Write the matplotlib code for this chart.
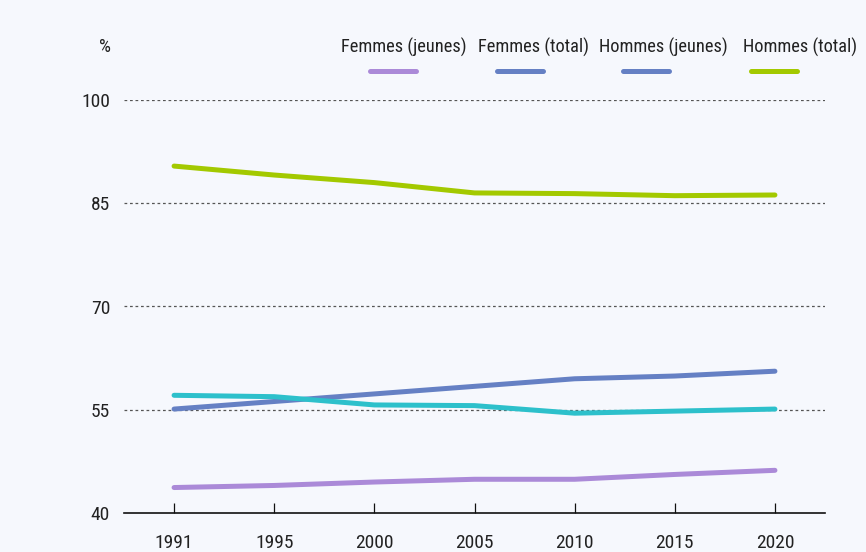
import matplotlib
matplotlib.use("Agg")
import matplotlib.pyplot as plt
from matplotlib.lines import Line2D
from matplotlib import font_manager

names = {f.name for f in font_manager.fontManager.ttflist}
fam = [f for f in ["Roboto Condensed", "Liberation Sans Narrow", "Roboto", "DejaVu Sans"] if f in names]
plt.rcParams['font.family'] = fam

years = ["1991", "1995", "2000", "2005", "2010", "2015", "2020"]
femmes_jeunes = [43.7, 44.0, 44.5, 44.9, 44.9, 45.6, 46.2]
femmes_total = [55.1, 56.2, 57.3, 58.4, 59.5, 59.9, 60.6]
hommes_jeunes = [57.1, 56.9, 55.7, 55.6, 54.5, 54.8, 55.1]
hommes_total = [90.4, 89.1, 88.0, 86.5, 86.4, 86.1, 86.2]
y_ticks = [40, 55, 70, 85, 100]
legend_labels = ["Femmes (jeunes)", "Femmes (total)", "Hommes (jeunes)", "Hommes (total)"]

bg = "#f6f8fd"
c_purple = "#ab8ad8"
c_blue = "#6580c4"
c_cyan = "#2dc0cb"
c_green = "#a3c900"

fig = plt.figure(figsize=(8.66, 5.52), dpi=100, facecolor=bg)
ax = fig.add_axes([124/866, 1-513/552, (825-124)/866, (513-100)/552], facecolor=bg)

x = list(range(len(years)))
lw = 3.6
for vals, col in [(femmes_jeunes, c_purple), (femmes_total, c_blue),
                  (hommes_jeunes, c_cyan), (hommes_total, c_green)]:
    ax.plot(x, vals, color=col, lw=lw, solid_capstyle='round', solid_joinstyle='round', zorder=3)

ax.set_xlim(-0.5, len(years) - 0.5)
ax.set_ylim(40, 100)
ax.set_xticks(x)
ax.set_xticklabels(years)
ax.set_yticks(y_ticks)
ax.set_yticklabels([str(v) for v in y_ticks])
for v in y_ticks[1:]:
    ax.axhline(v, color="#555555", lw=0.9, ls=(0, (2.2, 2.2)), zorder=1)

for s in ["left", "right", "top"]:
    ax.spines[s].set_visible(False)
ax.spines["bottom"].set_color("#111111")
ax.spines["bottom"].set_linewidth(1.2)
ax.tick_params(axis='x', direction='in', length=7.5, width=0.9, color="#111111",
               labelsize=14, pad=15, labelcolor="#222222")
ax.tick_params(axis='y', length=0, labelsize=14, pad=10, labelcolor="#222222")

fig.text(105/866, 1-47/552, "%", ha='center', va='center', fontsize=13.5, color="#222222")

leg_cols = [c_purple, c_blue, c_blue, c_green]
text_centers = [404, 533, 663.5, 800]
line_starts = [370, 497, 623, 751]
for lab, col, tc, ls_ in zip(legend_labels, leg_cols, text_centers, line_starts):
    fig.text(tc/866, 1-47/552, lab, ha='center', va='center', fontsize=13.2, color="#222222")
    fig.add_artist(Line2D([ls_/866, (ls_+46)/866], [1-71/552, 1-71/552], color=col, lw=lw,
                          solid_capstyle='round', transform=fig.transFigure))

fig.savefig("out.png", dpi=100, facecolor=bg)
